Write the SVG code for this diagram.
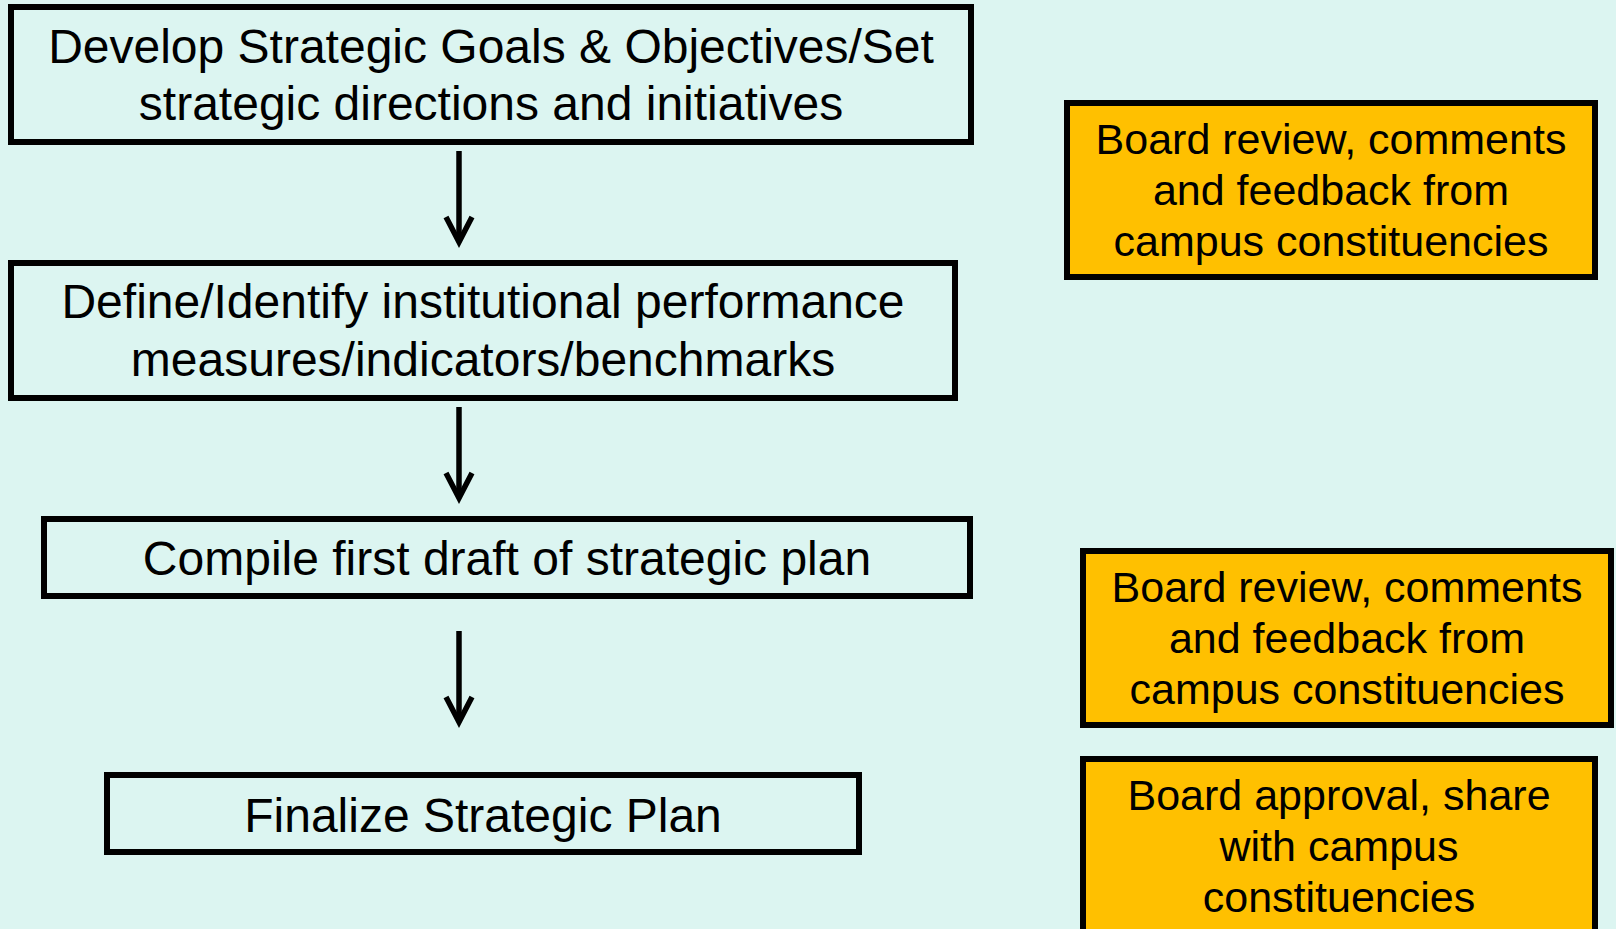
<svg xmlns="http://www.w3.org/2000/svg" width="1616" height="929" viewBox="0 0 1616 929">
<defs>
<style>
.bg{fill:#DCF5F1}
.step rect{fill:#DCF5F1;stroke:#000;stroke-width:6}
.note rect{fill:#FFC000;stroke:#000;stroke-width:6}
.step text{font-family:"Liberation Sans",Arial,sans-serif;font-size:48px;fill:#000;text-anchor:middle}
.note text{font-family:"Liberation Sans",Arial,sans-serif;font-size:43px;fill:#000;text-anchor:middle}
.conn line{stroke:#000;stroke-width:5.5;fill:none}
</style>
<marker id="arr" markerUnits="userSpaceOnUse" markerWidth="40" markerHeight="40" viewBox="-30 -20 40 40" refX="0" refY="0" orient="auto" overflow="visible">
<polyline points="-25,-13 0,0 -25,13" fill="none" stroke="#000" stroke-width="5.5" stroke-linejoin="miter"/>
</marker>
</defs>
<rect class="bg" x="0" y="0" width="1616" height="929"/>

<g id="step1" class="step">
<rect x="11" y="7" width="960" height="135"/>
<text x="491" y="63">Develop Strategic Goals &amp; Objectives/Set</text>
<text x="491" y="120">strategic directions and initiatives</text>
</g>

<g id="step2" class="step">
<rect x="11" y="263" width="944" height="135"/>
<text x="483" y="318">Define/Identify institutional performance</text>
<text x="483" y="376">measures/indicators/benchmarks</text>
</g>

<g id="step3" class="step">
<rect x="44" y="519" width="926" height="77"/>
<text x="507" y="575">Compile first draft of strategic plan</text>
</g>

<g id="step4" class="step">
<rect x="107" y="775" width="752" height="77"/>
<text x="483" y="832">Finalize Strategic Plan</text>
</g>

<g id="note1" class="note">
<rect x="1067" y="103" width="528" height="174"/>
<text x="1331" y="154">Board review, comments</text>
<text x="1331" y="205">and feedback from</text>
<text x="1331" y="256">campus constituencies</text>
</g>

<g id="note2" class="note">
<rect x="1083" y="551" width="528" height="174"/>
<text x="1347" y="602">Board review, comments</text>
<text x="1347" y="653">and feedback from</text>
<text x="1347" y="704">campus constituencies</text>
</g>

<g id="note3" class="note">
<rect x="1083" y="759" width="512" height="200"/>
<text x="1339" y="810">Board approval, share</text>
<text x="1339" y="861">with campus</text>
<text x="1339" y="912">constituencies</text>
</g>

<g id="connectors" class="conn">
<line x1="459" y1="151" x2="459" y2="242" marker-end="url(#arr)"/>
<line x1="459" y1="407" x2="459" y2="498" marker-end="url(#arr)"/>
<line x1="459" y1="631" x2="459" y2="722" marker-end="url(#arr)"/>
</g>
</svg>
